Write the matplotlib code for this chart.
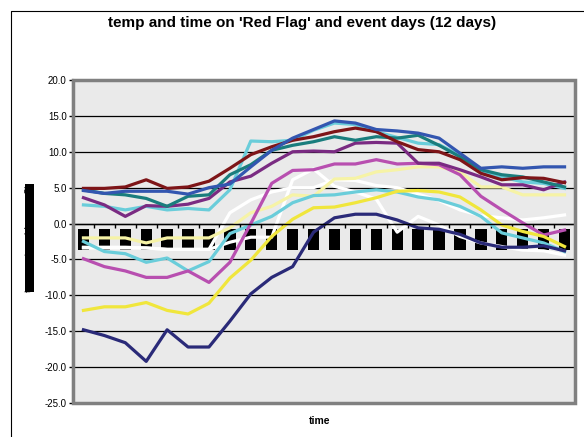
import numpy as np
import matplotlib.pyplot as plt
from matplotlib.patches import Rectangle
from matplotlib.lines import Line2D

plt.rcParams['font.family'] = ['Liberation Sans', 'DejaVu Sans']
plt.rcParams['axes.unicode_minus'] = False

# hour of day (category axis)
hours = ['00:00', '01:00', '02:00', '03:00', '04:00', '05:00', '06:00', '07:00',
         '08:00', '09:00', '10:00', '11:00', '12:00', '13:00', '14:00', '15:00',
         '16:00', '17:00', '18:00', '19:00', '20:00', '21:00', '22:00', '23:00']

# temperatures for the 12 days
day_white_a = [-3.4, -3.4, -3.4, -3.4, -3.6, -3.6, -3.6, -2.6, -1.9, -1.9, 6.1, 7.6,
               5.2, 4.4, 3.4, -1.2, 1.0, -0.2, -1.8, -2.7, -3.2, -3.7, -3.8, -4.4]
day_white_b = [-3.3, -3.3, -3.3, -3.4, -3.6, -3.6, -3.6, 1.5, 3.3, 4.4, 5.0, 5.0,
               6.1, 6.0, 5.3, 5.0, 4.1, 3.2, 1.9, 1.1, 0.8, 0.5, 0.8, 1.2]
day_pale = [-2.0, -2.0, -2.0, -2.7, -2.0, -2.0, -2.0, -0.6, 1.5, 2.4, 4.0, 3.8,
            6.2, 6.3, 7.2, 7.5, 7.9, 7.9, 7.2, 5.1, 5.1, 4.0, 4.0, 4.0]
day_cyan_low = [-2.5, -3.9, -4.2, -5.4, -4.8, -6.6, -5.3, -1.4, -0.2, 1.0, 2.9, 3.9,
                4.0, 4.4, 4.7, 4.4, 3.7, 3.3, 2.4, 1.0, -1.3, -2.0, -2.7, -3.9]
day_cyan_high = [2.6, 2.4, 1.9, 2.4, 1.9, 2.1, 1.9, 4.7, 11.5, 11.4, 11.6, 13.0,
                 14.0, 13.8, 12.8, 12.0, 11.2, 11.0, 9.5, 7.3, 6.5, 5.8, 5.6, 4.9]
day_magenta = [-4.9, -6.0, -6.6, -7.5, -7.5, -6.6, -8.2, -5.4, 0.0, 5.6, 7.4, 7.5,
               8.3, 8.3, 8.9, 8.3, 8.4, 8.2, 6.8, 3.8, 1.9, 0.1, -1.6, -0.9]
day_yellow = [-12.1, -11.6, -11.6, -11.0, -12.1, -12.6, -11.1, -7.6, -5.1, -1.8, 0.6, 2.2,
              2.3, 2.9, 3.6, 4.5, 4.6, 4.4, 3.7, 1.9, -0.2, -1.1, -1.8, -3.2]
day_navy = [-14.8, -15.6, -16.6, -19.2, -14.8, -17.2, -17.2, -13.6, -9.8, -7.5, -6.0, -1.2,
            0.8, 1.3, 1.3, 0.5, -0.6, -0.8, -1.5, -2.7, -3.3, -3.3, -3.1, -3.8]
day_purple = [3.6, 2.6, 1.0, 2.5, 2.4, 2.7, 3.5, 5.8, 6.6, 8.4, 10.0, 10.1,
              10.0, 11.2, 11.3, 11.2, 8.4, 8.4, 7.5, 6.5, 5.4, 5.4, 4.7, 5.8]
day_teal = [4.7, 4.2, 4.0, 3.5, 2.4, 3.8, 4.0, 6.8, 8.2, 10.2, 10.9, 11.4,
            12.1, 11.6, 12.1, 11.9, 12.3, 10.9, 9.3, 7.5, 6.8, 6.5, 5.8, 5.1]
day_darkred = [4.9, 4.9, 5.1, 6.1, 4.9, 5.1, 5.9, 7.7, 9.6, 10.7, 11.6, 12.1,
               12.8, 13.3, 12.8, 11.4, 10.3, 10.0, 8.9, 7.0, 6.1, 6.4, 6.3, 5.7]
day_blue = [4.6, 4.2, 4.5, 4.5, 4.5, 4.1, 5.0, 5.5, 7.9, 10.2, 11.9, 13.1,
            14.3, 14.0, 13.1, 12.9, 12.6, 11.9, 9.8, 7.7, 7.9, 7.7, 7.9, 7.9]

series = [
    (day_white_a, '#FFFFFF'),
    (day_white_b, '#FFFFFF'),
    (day_pale, '#F6F3A6'),
    (day_cyan_low, '#6ACDDA'),
    (day_magenta, '#B84FB0'),
    (day_yellow, '#F0E63C'),
    (day_cyan_high, '#6ACDDA'),
    (day_purple, '#7A2B82'),
    (day_teal, '#1A7D7D'),
    (day_darkred, '#7E1518'),
    (day_blue, '#3356B0'),
    (day_navy, '#2A2A78'),
]

W, H = 584, 437
fig = plt.figure(figsize=(W / 100, H / 100), dpi=100)
ax = fig.add_axes([73 / W, 34 / H, 502 / W, 323 / H])
ax.set_facecolor('#EAEAEA')

x = np.arange(len(hours))
yticks = np.arange(-25, 21, 5)

# gridlines behind the series
for v in yticks:
    ax.axhline(v, color='black', lw=0.9, zorder=1)

for vals, col in series:
    ax.plot(x, vals, color=col, lw=2.3, zorder=2, solid_joinstyle='round')

ax.set_xlim(-0.5, len(hours) - 0.5)
ax.set_ylim(-25, 20)
ax.set_yticks(yticks)
ax.set_yticklabels([f'{v:.1f}' for v in yticks], fontsize=7)
ax.tick_params(axis='y', direction='out', length=3, width=1, pad=1.5)

# category axis crossing at 0
ax.spines['bottom'].set_position(('data', 0))
ax.spines['bottom'].set_linewidth(1)
ax.spines['top'].set_visible(False)
ax.spines['right'].set_visible(False)
ax.spines['left'].set_color('#333333')
ax.spines['left'].set_linewidth(1.5)

ax.set_xticks(np.arange(len(hours) + 1) - 0.5)
ax.set_xticklabels([])
ax.tick_params(axis='x', which='major', direction='out', length=3, width=1)
ax.set_xticks(x, hours, minor=True)
ax.tick_params(axis='x', which='minor', length=0, pad=6.2, labelsize=3.6,
               labelcolor='black', labelrotation=90)
for lab in ax.get_xticklabels(minor=True):
    lab.set_bbox(dict(boxstyle='square,pad=0.64', fc='black', ec='none'))
    lab.set_family('DejaVu Sans')

# plot-area frame
ax.add_patch(Rectangle((0, 0), 1, 1, transform=ax.transAxes, fill=False,
                       ec='#808080', lw=2.5, clip_on=False, zorder=3))

fig.text(302 / W, 1 - 23 / H, "temp and time on 'Red Flag' and event days (12 days)",
         ha='center', va='center', fontsize=11, fontweight='bold')
fig.text(320 / W, 1 - 421 / H, 'time', ha='center', va='center',
         fontsize=7.5, fontweight='bold')
fig.text(29.5 / W, 1 - 238 / H, 'temperature (degrees C)', rotation=90,
         ha='center', va='center', fontsize=6.24, color='black', family='DejaVu Sans',
         bbox=dict(boxstyle='square,pad=0.05', fc='black', ec='none'))

# chart border
fig.add_artist(Line2D([10.5 / W, 10.5 / W, 1], [0, 1 - 10.5 / H, 1 - 10.5 / H],
                      color='black', lw=0.8))

fig.savefig('out.png', dpi=100)
